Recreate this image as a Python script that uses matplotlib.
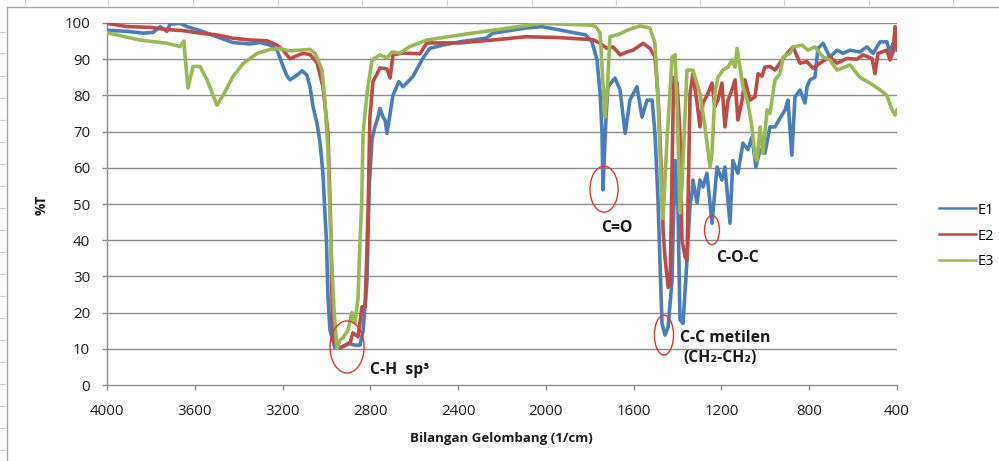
import matplotlib
matplotlib.use("Agg")
import matplotlib.pyplot as plt
from matplotlib.patches import Ellipse
from matplotlib.lines import Line2D

# ---------------- data ----------------
wn_e1 = [4000, 3909, 3836, 3790, 3758, 3727, 3713, 3667, 3635, 3576, 3499, 3426, 3348, 3303, 3257,
         3225, 3203, 3180, 3166, 3134, 3111, 3089, 3075, 3061, 3043, 3029, 3016, 3007, 3000, 2993,
         2984, 2961, 2930, 2900, 2870, 2847, 2833, 2815, 2805, 2792, 2779, 2765, 2756, 2742, 2733,
         2724, 2697, 2670, 2651, 2606, 2560, 2529, 2470, 2392, 2273, 2241, 2091, 2018, 1895, 1818,
         1790, 1767, 1753, 1744, 1740, 1726, 1717, 1685, 1662, 1639, 1617, 1585, 1562,
         1539, 1516, 1503, 1489, 1478, 1471, 1457, 1443, 1425, 1420, 1411, 1398, 1389, 1375, 1357,
         1343, 1334, 1330, 1311, 1298, 1284, 1266, 1243, 1220, 1198, 1184, 1161, 1148, 1125, 1102,
         1079, 1061, 1043, 1024, 1002, 979, 956, 933, 910, 897, 879, 865, 842, 819, 810, 796,
         774, 760, 737, 706, 673, 646, 614, 569, 537, 509, 477, 446, 432, 418, 400]
t_e1 = [98.0, 97.7, 97.2, 97.4, 99.0, 97.7, 99.7, 99.9, 99.0, 97.9, 96.2, 94.6, 94.2, 94.6, 93.9,
        92.5, 88.9, 85.4, 84.3, 85.6, 86.8, 85.6, 82.4, 76.9, 72.3, 66.8, 58.5, 47.4, 40.0, 24.4,
        15.2, 10.2, 10.5, 11.5, 11.0, 11.0, 15.0, 29.0, 55.0, 68.0, 71.3, 74.0, 76.4, 74.0, 73.2,
        69.5, 80.0, 83.8, 82.4, 85.2, 90.3, 93.0, 93.9, 94.8, 95.8, 97.2, 98.6, 99.0, 97.6, 96.7,
        94.8, 89.8, 80.6, 69.5, 53.9, 74.0, 82.4, 84.8, 81.5, 69.5, 78.7, 82.4, 74.0,
        78.7, 78.7, 69.5, 51.0, 30.0, 17.0, 13.8, 16.0, 29.0, 42.8, 62.0, 49.0, 18.0, 17.0, 34.5,
        50.0, 53.0, 56.6, 50.3, 56.6, 54.7, 58.5, 44.7, 60.2, 56.6, 60.2, 44.7, 62.0, 58.5, 66.8,
        65.0, 68.5, 60.2, 65.0, 64.0, 71.3, 71.3, 73.7, 76.0, 78.7, 63.5, 79.6, 81.5, 77.9, 82.4, 84.3,
        85.0, 93.0, 94.4, 90.6, 92.5, 91.6, 92.5, 92.0, 93.4, 91.6, 94.8, 94.8, 91.6, 94.4, 93.0]

wn_e2 = [4000, 3909, 3804, 3727, 3654, 3576, 3499, 3426, 3348, 3271, 3225, 3198, 3166, 3134, 3107,
         3075, 3043, 3016, 2993, 2984, 2980, 2975, 2970, 2938, 2893, 2879, 2856, 2838, 2824, 2815,
         2810, 2802, 2788, 2756, 2724, 2710, 2697, 2651, 2574, 2542, 2392, 2241, 2091, 1950,
         1786, 1753, 1722, 1694, 1662, 1630, 1603, 1557, 1526, 1503, 1489, 1471, 1466, 1457,
         1443, 1434, 1425, 1418, 1402, 1389, 1380, 1366, 1357, 1343, 1330, 1311, 1298, 1284, 1261,
         1243, 1230, 1216, 1198, 1184, 1170, 1152, 1138, 1125, 1106, 1093, 1070, 1047, 1033, 1015,
         1002, 979, 956, 933, 901, 874, 842, 810, 783, 751, 706, 673, 628, 582, 555, 514, 500,
         487, 446, 432, 418, 409, 400]
t_e2 = [99.9, 99.0, 98.8, 98.2, 97.9, 97.2, 96.7, 95.8, 95.3, 95.1, 93.9, 92.5, 90.1, 91.0, 91.6,
        91.3, 89.0, 82.4, 69.5, 51.0, 42.8, 24.4, 12.4, 10.2, 11.6, 14.4, 13.3, 21.6, 21.6, 38.0,
        49.0, 74.0, 83.8, 87.6, 87.3, 84.8, 91.2, 91.7, 91.5, 94.5, 94.5, 95.3, 96.2, 96.0,
        95.4, 94.4, 93.0, 93.4, 91.2, 92.0, 92.5, 94.4, 93.0, 90.6, 80.0, 55.7, 42.8, 35.0,
        27.0, 27.6, 60.0, 85.0, 83.4, 69.5, 40.0, 35.4, 34.5, 80.6, 86.0, 77.9, 71.3, 77.9, 80.6,
        83.4, 76.9, 78.7, 83.4, 71.3, 78.7, 81.5, 84.3, 73.2, 78.7, 84.3, 78.7, 79.6, 86.0, 85.3,
        87.8, 88.0, 87.0, 89.0, 91.6, 93.4, 88.9, 89.3, 87.5, 88.9, 90.6, 88.9, 90.2, 90.0, 91.2, 90.2, 86.0,
        91.6, 92.5, 89.8, 92.0, 99.0, 92.5]

wn_e3 = [4000, 3850, 3727, 3667, 3650, 3631, 3608, 3576, 3544, 3499, 3471, 3426, 3380, 3316, 3257,
         3212, 3166, 3120, 3075, 3052, 3020, 3007, 2993, 2980, 2965, 2952, 2938, 2925, 2902, 2884,
         2870, 2856, 2847, 2840, 2833, 2815, 2792, 2756, 2724, 2701, 2665, 2620, 2542, 2392, 2241,
         2091, 2018, 1790, 1773, 1753, 1731, 1722, 1708, 1662, 1630, 1571, 1526, 1503, 1489, 1471,
         1466, 1448, 1425, 1411, 1398, 1389, 1380, 1357, 1330, 1298, 1275, 1252, 1243, 1230, 1216,
         1193, 1170, 1152, 1138, 1129, 1116, 1102, 1079, 1061, 1047, 1038, 1024, 1011, 992, 979,
         956, 933, 919, 888, 874, 833, 806, 774, 737, 706, 673, 614, 569, 523, 477, 446, 423,
         409, 400]
t_e3 = [97.3, 95.3, 94.4, 93.5, 95.0, 82.0, 88.0, 88.0, 84.3, 77.3, 80.0, 85.2, 88.8, 91.6, 92.7,
        92.9, 92.3, 92.5, 92.7, 91.6, 87.0, 78.7, 64.9, 40.0, 20.0, 10.0, 12.4, 13.0, 15.2, 20.0,
        17.0, 24.0, 40.0, 49.0, 69.5, 80.6, 89.8, 91.2, 90.3, 92.0, 91.7, 93.5, 95.3, 96.7, 98.0,
        99.3, 99.9, 99.4, 99.0, 97.2, 74.0, 80.0, 96.2, 97.0, 98.0, 99.2, 98.6, 94.4, 78.7, 49.2,
        46.0, 67.7, 90.6, 91.2, 70.0, 47.5, 55.0, 87.0, 87.0, 80.6, 71.3, 60.2, 64.0, 80.6, 85.0,
        87.0, 87.8, 89.8, 87.8, 93.0, 88.0, 82.4, 77.9, 71.3, 63.0, 62.0, 71.3, 64.0, 76.0, 75.0,
        84.3, 86.0, 90.6, 91.6, 93.4, 93.9, 92.5, 93.4, 90.6, 89.8, 87.0, 88.4, 85.0, 83.4, 81.5, 80.0, 76.0,
        74.6, 76.0]

series_names = ["E1", "E2", "E3"]
series_colors = ["#4A7EBB", "#BE4B48", "#98B954"]

x_ticks = [4000, 3600, 3200, 2800, 2400, 2000, 1600, 1200, 800, 400]
y_ticks = [0, 10, 20, 30, 40, 50, 60, 70, 80, 90, 100]

# annotations: (label, wn, T)
ann_labels = ["C-H  sp³", "C=O", "C-O-C", "C-C metilen", "(CH₂-CH₂)"]
ann_wn = [2665, 1676, 1129, 1389, 1375]
ann_t = [4.1, 43.4, 35.1, 13.0, 7.5]
# ellipses (wn centre, T centre, width cm-1, height %T)
ell_wn = [2906, 1735, 1243, 1462]
ell_t = [10.5, 54.1, 42.8, 13.8]
ell_w = [155, 128, 68, 87]
ell_h = [14.4, 12.7, 8.0, 11.0]

# ---------------- figure ----------------
W, H = 999, 461
fig = plt.figure(figsize=(W / 100, H / 100), dpi=100)
fam = ["Open Sans", "DejaVu Sans"]
plt.rcParams["font.family"] = fam

ax = fig.add_axes([107 / W, 1 - 385 / H, (897 - 107) / W, (385 - 23) / H])
ax.set_xlim(4000, 400)
ax.set_ylim(0, 100)

for y in y_ticks[1:]:
    ax.axhline(y, color="#8C8C8C", lw=1.0, zorder=1)

for wn, t, c, n in zip([wn_e1, wn_e2, wn_e3], [t_e1, t_e2, t_e3], series_colors, series_names):
    ax.plot(wn, t, color=c, lw=2.6, label=n, zorder=3, solid_joinstyle="round")

for s in ["top", "right"]:
    ax.spines[s].set_visible(False)
for s in ["left", "bottom"]:
    ax.spines[s].set_color("#8C8C8C")
    ax.spines[s].set_linewidth(1.0)

ax.set_xticks(x_ticks)
ax.set_yticks(y_ticks)
ax.set_xticklabels([str(v) for v in x_ticks])
ax.set_yticklabels([str(v) for v in y_ticks])
ax.tick_params(axis="both", direction="out", length=3.6, width=1.0, color="#8C8C8C",
               labelsize=10.8, labelcolor="#1a1a1a")
ax.tick_params(axis="y", pad=8.5)
ax.tick_params(axis="x", pad=10)

for e_wn, e_t, e_w, e_h in zip(ell_wn, ell_t, ell_w, ell_h):
    ax.add_patch(Ellipse((e_wn, e_t), e_w, e_h, fill=False, edgecolor="#E8302C", lw=1.0,
                         zorder=5, clip_on=False))

has = ["center", "center", "center", "left", "left"]
for lab, wn, t, ha in zip(ann_labels, ann_wn, ann_t, has):
    ax.text(wn, t, lab, ha=ha, va="center", fontsize=11.3, fontweight="bold",
            color="#1a1a1a", zorder=6, clip_on=False, family=fam)

fig.text(42 / W, 1 - 205 / H, "%T", rotation=90, ha="center", va="center",
         fontsize=10, fontweight="bold", color="#1a1a1a")
fig.text(501 / W, 1 - 438 / H, "Bilangan Gelombang (1/cm)", ha="center", va="center",
         fontsize=9.5, fontweight="bold", color="#1a1a1a")

handles = [Line2D([0], [0], color=c, lw=1.8) for c in series_colors]
fig.legend(handles, series_names, loc="center left", bbox_to_anchor=(932 / W, 1 - 236 / H),
           frameon=False, fontsize=10.5, handlelength=2.5, handletextpad=0.1,
           labelspacing=0.75, borderpad=0)

# outer chart frame and faint sheet grid marks
fig.add_artist(Line2D([7 / W, 7 / W], [0, 1 - 7 / H], transform=fig.transFigure,
                      color="#A6A6A6", lw=1.0))
fig.add_artist(Line2D([7 / W, 1], [1 - 7 / H, 1 - 7 / H], transform=fig.transFigure,
                      color="#A6A6A6", lw=1.0))
for xp in [25, 108, 193, 278, 362, 447, 532, 616, 700, 784, 869, 953]:
    fig.add_artist(Line2D([xp / W, xp / W], [1 - 0 / H, 1 - 5 / H], transform=fig.transFigure,
                          color="#C5D3E8", lw=0.8))
for yp in [32, 53, 76, 98, 120, 142, 164, 186, 208, 230, 252, 274, 296, 318, 340, 362, 384, 406, 428, 450]:
    fig.add_artist(Line2D([0, 5 / W], [1 - yp / H, 1 - yp / H], transform=fig.transFigure,
                          color="#C5D3E8", lw=0.8))

fig.savefig("out.png", dpi=100)
